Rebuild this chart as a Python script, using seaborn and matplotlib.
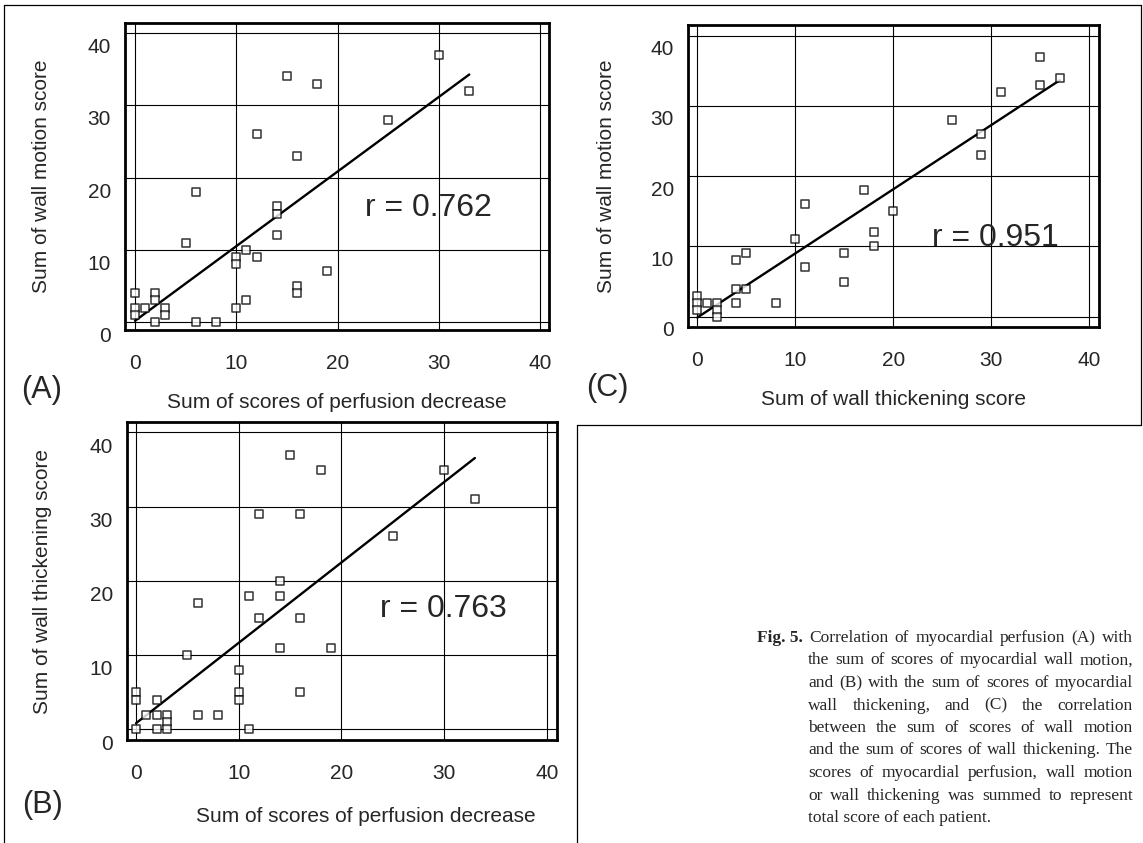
import numpy as np
import matplotlib
matplotlib.use("Agg")
import matplotlib.pyplot as plt
import seaborn as sns

# (A) perfusion decrease vs wall motion
perf_a = [30, 33, 15, 18, 25, 12, 16, 6, 14, 14, 14, 5, 11, 12, 10, 10, 19, 16,
          16, 11, 10, 0, 0, 0, 1, 2, 2, 3, 3, 2, 6, 8]
motion_a = [39, 34, 36, 35, 30, 28, 25, 20, 18, 17, 14, 13, 12, 11, 11, 10, 9, 7,
            6, 5, 4, 6, 4, 3, 4, 6, 5, 4, 3, 2, 2, 2]

# (B) perfusion decrease vs wall thickening
perf_b = [15, 18, 30, 33, 12, 16, 25, 14, 14, 11, 6, 12, 16, 14, 19, 5, 10, 10,
          10, 16, 0, 0, 2, 1, 2, 3, 3, 3, 2, 0, 6, 8, 11]
thick_b = [39, 37, 37, 33, 31, 31, 28, 22, 20, 20, 19, 17, 17, 13, 13, 12, 10, 7,
           6, 7, 7, 6, 6, 4, 4, 4, 3, 2, 2, 2, 4, 4, 2]

# (C) wall thickening vs wall motion
thick_c = [35, 37, 35, 31, 26, 29, 29, 17, 11, 20, 18, 18, 10, 15, 11, 15, 5, 4,
           5, 4, 4, 8, 0, 0, 0, 1, 2, 2, 2]
motion_c = [39, 36, 35, 34, 30, 28, 25, 20, 18, 17, 14, 12, 13, 11, 9, 7, 11, 10,
            6, 6, 4, 4, 5, 4, 3, 4, 4, 3, 2]

r_labels = ["r = 0.762", "r = 0.763", "r = 0.951"]
tick_values = [0, 10, 20, 30, 40]
grid_y = [2, 12, 22, 32, 42]

caption_lines = [
    "Correlation of myocardial perfusion (A) with",
    "the sum of scores of myocardial wall motion,",
    "and (B) with the sum of scores of myocardial",
    "wall thickening, and (C) the correlation",
    "between the sum of scores of wall motion",
    "and the sum of scores of wall thickening. The",
    "scores of myocardial perfusion, wall motion",
    "or wall thickening was summed to represent",
    "total score of each patient.",
]

sns.set_style("white")
plt.rcParams["font.family"] = ["Liberation Sans", "DejaVu Sans"]

W, H = 1143, 843
fig = plt.figure(figsize=(W / 100, H / 100), dpi=100)


def px_axes(left, top, right, bottom):
    return fig.add_axes([left / W, 1 - bottom / H, (right - left) / W, (bottom - top) / H])


def draw_panel(ax, x, y, xlim, ylim, xlabel, ylabel, r_label, r_pos, xlab_y):
    for v in tick_values:
        ax.axvline(v, color="black", lw=0.8, zorder=1)
    for v in grid_y:
        ax.axhline(v, color="black", lw=0.8, zorder=1)
    sns.regplot(x=np.array(x), y=np.array(y), ax=ax, ci=None, color="black", marker="s",
                scatter_kws=dict(s=30, facecolors="white", edgecolors="black",
                                 linewidths=1.1, zorder=3),
                line_kws=dict(lw=1.7, zorder=2))
    ax.set_xlim(*xlim)
    ax.set_ylim(*ylim)
    ax.set_xticks(tick_values)
    ax.set_xticks(np.arange(0, 41, 2), minor=True)
    ax.set_yticks(np.arange(2, 43, 2))
    ax.tick_params(axis="both", which="both", direction="in", length=6, width=1,
                   top=False, right=False)
    ax.tick_params(axis="x", labelsize=15, pad=17)
    ax.tick_params(axis="y", labelleft=False)
    for v in tick_values:
        ax.annotate(str(v), xy=(0, v), xycoords=("axes fraction", "data"),
                    xytext=(-10, 0), textcoords="offset points", ha="right",
                    va="center", fontsize=15, annotation_clip=False)
    for s in ax.spines.values():
        s.set_linewidth(2)
        s.set_color("black")
    ax.set_xlabel(xlabel, fontsize=15)
    ax.set_ylabel(ylabel, fontsize=15)
    ax.xaxis.set_label_coords(0.5, xlab_y)
    ax.yaxis.set_label_coords(-0.175, 0.5)
    ax.text(r_pos[0], r_pos[1], r_label, fontsize=23, ha="left", va="center", zorder=4)


ax_a = px_axes(125, 23, 549, 330)
draw_panel(ax_a, perf_a, motion_a, (-0.99, 40.87), (0.9, 43.4),
           "Sum of scores of perfusion decrease", "Sum of wall motion score",
           r_labels[0], (22.7, 17.8), -0.205)

ax_b = px_axes(127, 422, 557, 740)
draw_panel(ax_b, perf_b, thick_b, (-0.88, 41.0), (0.57, 43.4),
           "Sum of scores of perfusion decrease", "Sum of wall thickening score",
           r_labels[1], (23.8, 18.2), -0.21)
ax_b.xaxis.set_label_coords(0.556, -0.21)

ax_c = px_axes(688, 25, 1099, 327)
draw_panel(ax_c, thick_c, motion_c, (-0.95, 41.0), (0.53, 43.5),
           "Sum of wall thickening score", "Sum of wall motion score",
           r_labels[2], (24.0, 13.2), -0.21)

# panel letters
fig.text(42 / W, 1 - 390 / H, "(A)", fontsize=22, ha="center", va="center")
fig.text(42 / W, 1 - 805 / H, "(B)", fontsize=22, ha="center", va="center")
fig.text(607 / W, 1 - 388 / H, "(C)", fontsize=22, ha="center", va="center")

# page frame lines
frame = dict(color="black", lw=0.9, transform=fig.transFigure)
fig.add_artist(plt.Line2D([4 / W, 1141 / W], [1 - 5 / H, 1 - 5 / H], **frame))
fig.add_artist(plt.Line2D([4 / W, 4 / W], [1 - 5 / H, 0], **frame))
fig.add_artist(plt.Line2D([1141 / W, 1141 / W], [1 - 5 / H, 1 - 425 / H], **frame))
fig.add_artist(plt.Line2D([577 / W, 1141 / W], [1 - 425 / H, 1 - 425 / H], **frame))
fig.add_artist(plt.Line2D([577 / W, 577 / W], [1 - 425 / H, 0], **frame))

# justified caption
renderer = fig.canvas.get_renderer()
cap_font = dict(fontsize=12.5, family=["Liberation Serif", "DejaVu Serif"])
x_right = 1133
line_h = 22.5
y0 = 642

fig_label = fig.text(757 / W, 1 - y0 / H, "Fig. 5.", fontweight="bold", va="baseline", **cap_font)
fig_label_w = fig_label.get_window_extent(renderer).width

for i, line in enumerate(caption_lines):
    yb = 1 - (y0 + i * line_h) / H
    x_left = 757 + fig_label_w + 6 if i == 0 else 808
    if i == len(caption_lines) - 1:
        fig.text(x_left / W, yb, line, va="baseline", **cap_font)
        continue
    words = line.split()
    items = [fig.text(0, yb, w, va="baseline", **cap_font) for w in words]
    widths = [t.get_window_extent(renderer).width for t in items]
    gap = (x_right - x_left - sum(widths)) / (len(words) - 1)
    xp = x_left
    for t, w in zip(items, widths):
        t.set_x(xp / W)
        xp += w + gap

fig.savefig("out.png", dpi=100, facecolor="white")
